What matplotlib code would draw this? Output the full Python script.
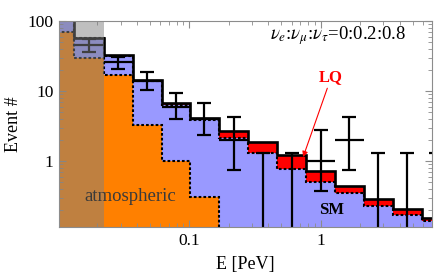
"""
Event spectrum: atmospheric + SM astrophysical + LQ contribution vs data.
"""

import matplotlib
matplotlib.use("Agg")
import matplotlib.pyplot as plt
import numpy as np
from matplotlib.ticker import FixedLocator, FixedFormatter, LogLocator, NullFormatter

plt.rcParams["font.family"] = ["Liberation Serif", "DejaVu Serif"]
plt.rcParams["mathtext.fontset"] = "stix"

# bin edges in PeV (log-spaced)
edges = np.array([0.0080, 0.0133, 0.0224, 0.0371, 0.0617, 0.101, 0.168,
                  0.281, 0.468, 0.773, 1.285, 2.13, 3.53, 5.87, 9.8])

# stacked expectations (events per bin)
atmospheric = np.array([70, 30, 16.7, 3.27, 1.0, 0.31,
                        0.08, 0.05, 0.03, 0.02, 0.01, 0.006, 0.004, 0.002])
sm_total = np.array([120, 57, 32, 13.9, 6.4, 3.9,
                     2.1, 1.29, 0.76, 0.506, 0.346, 0.228, 0.169, 0.139])
lq_total = np.array([125, 57.5, 32.7, 14.4, 6.67, 4.07,
                     2.65, 1.85, 1.22, 0.727, 0.44, 0.284, 0.204, 0.152])

# observed counts with 68% intervals (bins 1..13)
data_n = np.array([46, 26, 14, 6, 4, 2, 0, 0, 1, 2, 0, 0, 0])
data_lo = np.array([36, 20.4, 10.3, 4.0, 2.35, 0.74, 0, 0, 0.37, 0.74, 0, 0, 0])
data_hi = np.array([55, 30.9, 18.5, 9.3, 6.8, 4.3, 1.29, 1.29, 2.75, 4.25, 1.29, 1.29, 1.29])

ORANGE = "#FF8000"
BLUE = "#9999FF"
RED = "#FF0000"

fig = plt.figure(figsize=(4.36, 2.73), dpi=100)
ax = fig.add_axes([59 / 436, 1 - 227 / 273, 373 / 436, 206 / 273])
ax.set_xscale("log")
ax.set_yscale("log")
ax.set_xlim(0.0102, 7.03)
ax.set_ylim(0.114, 100)

base = 1e-3
ax.stairs(lq_total, edges, baseline=base, fill=True, color=RED, zorder=1)
ax.stairs(sm_total, edges, baseline=base, fill=True, color=BLUE, zorder=1.1)
ax.stairs(atmospheric, edges, baseline=base, fill=True, color=ORANGE, zorder=1.2)

dots = (0, (1.3, 1.0))
ax.stairs(sm_total, edges, baseline=base, color="black", lw=1.5, ls=dots, zorder=2)
ax.stairs(atmospheric, edges, baseline=base, color="black", lw=1.5, ls=dots, zorder=2)
ax.stairs(lq_total, edges, baseline=base, color="black", lw=1.9, zorder=2.5)

# data points
left = edges[1:-1]
right = edges[2:]
centers = np.sqrt(left * right)
ybot = ax.get_ylim()[0]
has = data_n > 0
ax.hlines(data_n[has], left[has], right[has], color="black", lw=1.6, zorder=4)
ax.vlines(centers, np.maximum(data_lo, ybot * 0.5), data_hi, color="black", lw=1.6, zorder=4)
ax.plot(centers, data_hi, ls="none", marker="_", ms=9.5, mew=1.6, color="black", zorder=4)
pos = data_lo > 0
ax.plot(centers[pos], data_lo[pos], ls="none", marker="_", ms=9.5, mew=1.6, color="black", zorder=4)

# shaded low-energy region
ax.axvspan(ax.get_xlim()[0], edges[2], facecolor="#808080", alpha=0.5, lw=0, zorder=5)

# axes styling
for s in ax.spines.values():
    s.set_color("#8c8c8c")
    s.set_linewidth(0.8)
    s.set_zorder(6)
ax.tick_params(which="both", direction="in", top=True, right=True,
               colors="#8c8c8c", labelcolor="black", labelsize=12.5)
ax.tick_params(which="major", length=5, width=0.8, pad=4)
ax.tick_params(which="minor", length=2.8, width=0.6)
ax.xaxis.set_major_locator(FixedLocator([0.1, 1]))
ax.xaxis.set_major_formatter(FixedFormatter(["0.1", "1"]))
ax.xaxis.set_minor_locator(LogLocator(base=10, subs=np.arange(2, 10)))
ax.xaxis.set_minor_formatter(NullFormatter())
ax.yaxis.set_major_locator(FixedLocator([1, 10, 100]))
ax.yaxis.set_major_formatter(FixedFormatter(["1", "10", "100"]))
ax.yaxis.set_minor_locator(LogLocator(base=10, subs=np.arange(2, 10)))
ax.yaxis.set_minor_formatter(NullFormatter())

ax.set_xlabel("E [PeV]", fontsize=13, labelpad=5)
ax.set_ylabel("Event #", fontsize=13, labelpad=4)

ax.text(0.93, 0.927, r"$\nu_e$:$\nu_\mu$:$\nu_\tau$=0:0.2:0.8",
        transform=ax.transAxes, ha="right", va="center", fontsize=13.5, zorder=7)
ax.annotate("LQ", xy=(0.735, 1.14), xytext=(1.2, 12.0), fontsize=12,
            fontweight="bold", color=RED, ha="center", va="bottom", zorder=7,
            arrowprops=dict(arrowstyle="-|>", color=RED, lw=0.8,
                            shrinkA=0, shrinkB=0, mutation_scale=8))
ax.text(1.21, 0.2, "SM", fontsize=12, fontweight="bold", ha="center",
        va="center", zorder=7)
ax.text(0.0354, 0.31, "atmospheric", fontsize=13.5, color="#3a3a3a",
        ha="center", va="center", zorder=7)

plt.savefig("out.png", dpi=100)
plt.close()
